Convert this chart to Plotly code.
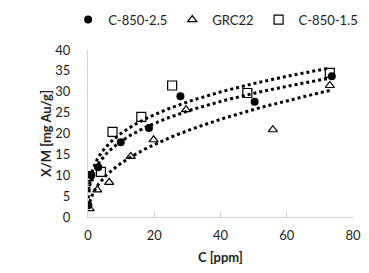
import numpy as np
import plotly.graph_objects as go

# C-850-2.5 (filled circles)
c25_x = [0.1, 1.0, 3.1, 9.9, 18.4, 27.9, 50.3, 73.6]
c25_y = [2.8, 10.0, 11.9, 17.9, 21.3, 28.9, 27.6, 33.7]
# GRC22 (open triangles)
grc_x = [0.5, 2.8, 6.4, 12.9, 19.8, 29.6, 55.8, 73.0]
grc_y = [2.0, 6.5, 8.3, 14.5, 18.5, 25.7, 20.9, 31.5]
# C-850-1.5 (open squares)
c15_x = [0.2, 3.9, 7.4, 16.1, 25.4, 48.1, 73.0]
c15_y = [9.8, 10.8, 20.4, 24.0, 31.5, 29.7, 34.5]

# power trendlines y = a * x^b, coefficients
trend_a = [9.02, 4.79, 10.28]
trend_b = [0.304, 0.43, 0.29]

series = [
    ("C-850-2.5", c25_x, c25_y, dict(symbol="circle", size=8, color="black")),
    ("GRC22", grc_x, grc_y, dict(symbol="triangle-up-open", size=8, color="black", line=dict(width=1.2))),
    ("C-850-1.5", c15_x, c15_y, dict(symbol="square-open", size=9, color="black", line=dict(width=1.2))),
]

fig = go.Figure()
for (name, xs, ys, mk), a, b in zip(series, trend_a, trend_b):
    xf = np.linspace(min(xs), max(xs), 300)
    yf = a * xf ** b
    fig.add_trace(go.Scatter(x=xf, y=yf, mode="lines", showlegend=False,
                             line=dict(color="black", width=3, dash="dot"), hoverinfo="skip"))
for name, xs, ys, mk in series:
    fig.add_trace(go.Scatter(x=xs, y=ys, mode="markers", name=name, marker=mk))

FONT = "Lato, 'Open Sans', sans-serif"
# page body has an 8px default margin, so the figure is sized to fit inside
fig.update_layout(
    width=353, height=257,
    margin=dict(l=80, r=8, t=42, b=48, autoexpand=False),
    plot_bgcolor="white", paper_bgcolor="white",
    font=dict(family=FONT, size=13, color="#222"),
    showlegend=True,
    legend=dict(orientation="h", x=-0.075, xanchor="left",
                y=1.272, yanchor="top",
                font=dict(size=13), itemwidth=30, tracegroupgap=0),
    xaxis=dict(range=[0, 80], tickvals=[0, 20, 40, 60, 80], showgrid=False, zeroline=False,
               showline=True, linecolor="#d0d0d0", linewidth=1, ticks="inside", ticklen=5,
               tickcolor="#d0d0d0", ticklabelstandoff=6, automargin=False,
               title=dict(text="<b>C [ppm]</b>", font=dict(size=13), standoff=18)),
    yaxis=dict(range=[0, 40], tickvals=[0, 5, 10, 15, 20, 25, 30, 35, 40], showgrid=False, zeroline=False,
               showline=True, linecolor="#d0d0d0", linewidth=1, ticks="", ticklabelstandoff=14,
               automargin=False,
               title=dict(text="<b>X/M [mg Au/g]</b>", font=dict(size=13), standoff=0)),
)
fig.write_html("out.html")
